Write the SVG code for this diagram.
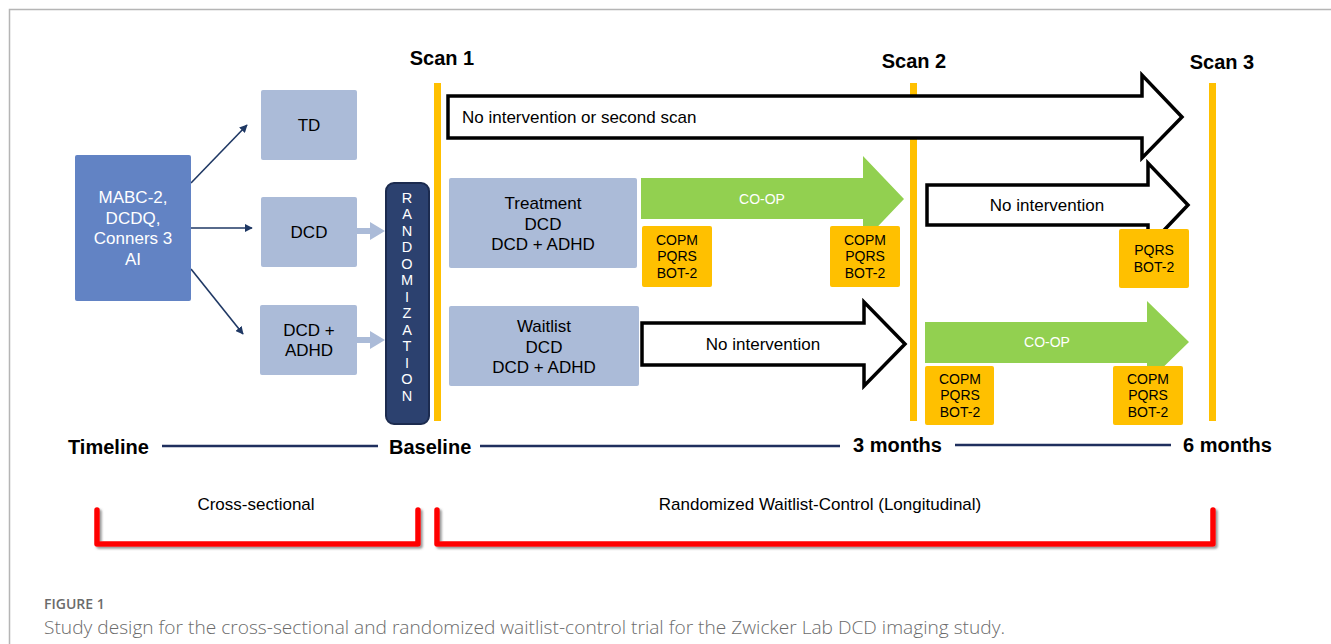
<svg xmlns="http://www.w3.org/2000/svg" width="1331" height="644" viewBox="0 0 1331 644">
<defs>
<style>
text{font-family:"Liberation Sans",Arial,sans-serif;}
.c{text-anchor:middle;}
.lb{fill:#abbbd8;}
.t17{font-size:17px;fill:#000;}
.w{fill:#fff;}
.scan{fill:#ffc000;}
.bold{font-weight:bold;font-size:20px;fill:#000;}
.hollow{fill:#fff;stroke:#000;stroke-width:3.5;stroke-linejoin:miter;}
.green{fill:#92d050;}
.ob{fill:#ffc000;}
.ot{font-size:14px;fill:#000;text-anchor:middle;}
.nav{stroke:#1f3864;stroke-width:1.6;fill:none;}
.tl{stroke:#1f2f5e;stroke-width:2.5;}
.br{fill:none;stroke:#ff0000;stroke-width:5.5;stroke-linejoin:round;stroke-linecap:round;}
.cap{font-family:"Open Sans","Liberation Sans",sans-serif;fill:#6b6b6b;}
</style>
<marker id="nh" viewBox="0 0 10 10" refX="9" refY="5" markerWidth="8" markerHeight="8" markerUnits="userSpaceOnUse" orient="auto">
<path d="M0,0 L10,5 L0,10 z" fill="#1f3864"/>
</marker>
<filter id="sh" x="-5%" y="-30%" width="110%" height="160%">
<feDropShadow dx="2" dy="2" stdDeviation="1.2" flood-color="#555" flood-opacity="0.6"/>
</filter>
</defs>
<rect x="0" y="0" width="1331" height="644" fill="#fff"/>
<path d="M9.5,644 V9.5 H1331" fill="none" stroke="#b5b5b5" stroke-width="1.5"/>

<!-- scan lines -->
<g id="scan1"><rect class="scan" x="434" y="83" width="7" height="338"/><text class="bold c" x="442" y="65">Scan 1</text></g>
<g id="scan2"><rect class="scan" x="910" y="83" width="7" height="338"/><text class="bold c" x="914" y="68">Scan 2</text></g>
<g id="scan3"><rect class="scan" x="1209" y="83" width="7" height="338"/><text class="bold c" x="1222" y="69">Scan 3</text></g>

<!-- connectors -->
<g id="connectors">
<line class="nav" x1="191" y1="183" x2="247" y2="125" marker-end="url(#nh)"/>
<line class="nav" x1="191" y1="228" x2="252" y2="228" marker-end="url(#nh)"/>
<line class="nav" x1="191" y1="269" x2="243" y2="334" marker-end="url(#nh)"/>
<path d="M356,228 H370 V222 L385,231 L370,240 V234 H356 z" fill="#abbbd8"/>
<path d="M356,337 H370 V331 L385,340 L370,349 V343 H356 z" fill="#abbbd8"/>
</g>

<g id="mabc"><rect x="75" y="155" width="116" height="146" rx="2" fill="#6283c4"/>
<text class="c w" font-size="17" x="133" y="203">MABC-2,</text>
<text class="c w" font-size="17" x="133" y="224">DCDQ,</text>
<text class="c w" font-size="17" x="133" y="244">Conners 3</text>
<text class="c w" font-size="17" x="133" y="265">AI</text></g>

<g id="td"><rect class="lb" x="261" y="90" width="96" height="70" rx="2"/><text class="c t17" x="309" y="131">TD</text></g>
<g id="dcd"><rect class="lb" x="261" y="197" width="96" height="70" rx="2"/><text class="c t17" x="309" y="238">DCD</text></g>
<g id="dcdadhd"><rect class="lb" x="260" y="305" width="97" height="70" rx="2"/><text class="c t17" x="309" y="336">DCD +</text><text class="c t17" x="309" y="356">ADHD</text></g>

<g id="randomization"><rect x="386" y="183" width="43" height="241" rx="8" fill="#2c416f" stroke="#1c2b4f" stroke-width="2"/>
<g font-size="14.5" fill="#fff" text-anchor="middle">
<text x="407" y="202.5">R</text><text x="407" y="219">A</text><text x="407" y="235.5">N</text><text x="407" y="252">D</text><text x="407" y="268.5">O</text><text x="407" y="285">M</text><text x="407" y="301.5">I</text><text x="407" y="318">Z</text><text x="407" y="334.5">A</text><text x="407" y="351">T</text><text x="407" y="367.5">I</text><text x="407" y="384">O</text><text x="407" y="400.5">N</text>
</g></g>

<!-- arrows -->
<g id="arrow-top"><polygon class="hollow" points="448,96 1142,96 1142,75 1182,117 1142,158 1142,138 448,138"/>
<text class="t17" x="462" y="123">No intervention or second scan</text></g>
<g id="coop1"><polygon class="green" points="641,178 863,178 863,156 904,199 863,242 863,219 641,219"/>
<text class="c w" font-size="14" x="762" y="204">CO-OP</text></g>
<g id="noint1"><polygon class="hollow" points="642,323 864,323 864,302 905,344 864,386 864,365 642,365"/>
<text class="c t17" x="763" y="350">No intervention</text></g>
<g id="noint2"><polygon class="hollow" points="927,185 1148,185 1148,163 1188,205 1148,247 1148,225 927,225"/>
<text class="c t17" x="1047" y="211">No intervention</text></g>
<g id="coop2"><polygon class="green" points="925,322 1147,322 1147,301 1189,342 1147,383 1147,363 925,363"/>
<text class="c w" font-size="14" x="1047" y="347">CO-OP</text></g>

<g id="treatment"><rect class="lb" x="449" y="178" width="188" height="90" rx="2"/>
<text class="c t17" x="543" y="209">Treatment</text><text class="c t17" x="543" y="230">DCD</text><text class="c t17" x="543" y="250">DCD + ADHD</text></g>
<g id="waitlist"><rect class="lb" x="449" y="306" width="190" height="80" rx="2"/>
<text class="c t17" x="544" y="332">Waitlist</text><text class="c t17" x="544" y="353">DCD</text><text class="c t17" x="544" y="373">DCD + ADHD</text></g>

<g id="m1"><rect class="ob" x="642" y="226" width="70" height="61" rx="2"/><text class="ot" x="677" y="245">COPM</text><text class="ot" x="677" y="261">PQRS</text><text class="ot" x="677" y="278">BOT-2</text></g>
<g id="m2"><rect class="ob" x="830" y="226" width="70" height="61" rx="2"/><text class="ot" x="865" y="245">COPM</text><text class="ot" x="865" y="261">PQRS</text><text class="ot" x="865" y="278">BOT-2</text></g>
<g id="m3"><rect class="ob" x="1119" y="229" width="70" height="59" rx="2"/><text class="ot" x="1154" y="255">PQRS</text><text class="ot" x="1154" y="272">BOT-2</text></g>
<g id="m4"><rect class="ob" x="925" y="366" width="69" height="59" rx="2"/><text class="ot" x="960" y="384">COPM</text><text class="ot" x="960" y="400">PQRS</text><text class="ot" x="960" y="417">BOT-2</text></g>
<g id="m5"><rect class="ob" x="1113" y="366" width="70" height="59" rx="2"/><text class="ot" x="1148" y="384">COPM</text><text class="ot" x="1148" y="400">PQRS</text><text class="ot" x="1148" y="417">BOT-2</text></g>

<!-- timeline -->
<g id="timeline">
<line class="tl" x1="162" y1="446" x2="378" y2="446"/>
<line class="tl" x1="480" y1="446" x2="840" y2="446"/>
<line class="tl" x1="955" y1="445" x2="1171" y2="445"/>
<text class="bold" font-size="19" x="68" y="454">Timeline</text>
<text class="bold" font-size="19" x="389" y="454">Baseline</text>
<text class="bold" font-size="19" x="853" y="452">3 months</text>
<text class="bold" font-size="19" x="1183" y="452">6 months</text>
</g>

<g id="phases">
<text class="c t17" x="256" y="510">Cross-sectional</text>
<text class="c t17" x="820" y="510">Randomized Waitlist-Control (Longitudinal)</text>
<path class="br" filter="url(#sh)" d="M97,510 V544 H418 V510"/>
<path class="br" filter="url(#sh)" d="M437,510 V544 H1213 V510"/>
</g>

<g id="caption">
<text class="cap" x="44" y="609" font-size="14" font-weight="600">FIGURE 1</text>
<text class="cap" x="44" y="634" font-size="18" font-weight="300" textLength="961" lengthAdjust="spacingAndGlyphs">Study design for the cross-sectional and randomized waitlist-control trial for the Zwicker Lab DCD imaging study.</text>
</g>
</svg>
